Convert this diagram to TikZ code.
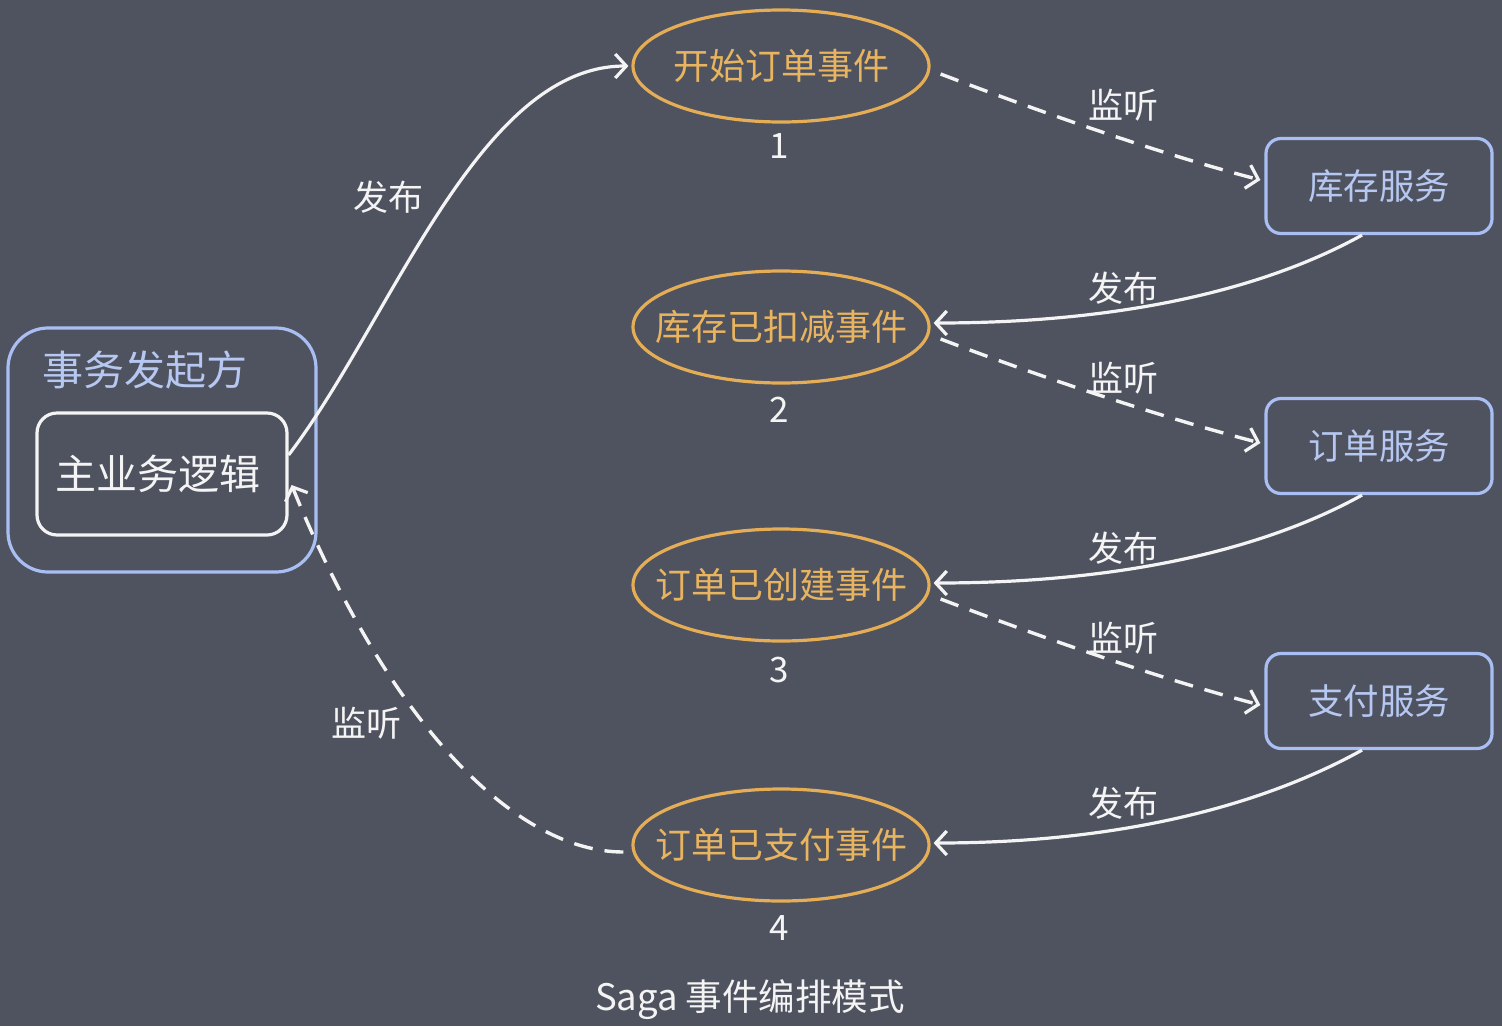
\documentclass[tikz,border=0pt]{standalone}
\usepackage{fontspec}
\setmainfont{Noto Sans CJK SC}
\usetikzlibrary{shapes.geometric,arrows.meta,calc}

\definecolor{bgc}{HTML}{4F535F}
\definecolor{evline}{HTML}{E5AD55}
\definecolor{evtext}{HTML}{E8B460}
\definecolor{svline}{HTML}{A9BFF3}
\definecolor{svtext}{HTML}{B6C8F2}
\definecolor{wline}{HTML}{F4F4F4}

\newcommand{\fs}[1]{\fontsize{#1}{#1}\selectfont}
% zero-width box so the ellipse keeps its fixed size
\newcommand{\evt}[1]{\makebox[0pt]{#1}}

\tikzset{
  x=1pt, y=1pt,
  event/.style={ellipse, draw=evline, line width=3.2pt, minimum width=296, minimum height=112,
    text=evtext, font=\fs{36}, inner sep=0pt},
  service/.style={rectangle, rounded corners=15, draw=svline, line width=3.2pt,
    minimum width=226, minimum height=95, text=svtext, font=\fs{35.5}},
  num/.style={text=wline, font=\fs{35}, inner sep=0pt},
  lbl/.style={text=wline, font=\fs{35}, inner sep=0pt},
  tip/.style={-{Straight Barb[length=11pt,width=24pt,line width=3.2pt]}},
  publish/.style={draw=wline, line width=3.2pt, tip},
  listen/.style={draw=wline, line width=3.4pt, dash pattern=on 19pt off 12pt, tip},
}

\begin{document}
\begin{tikzpicture}
  % canvas
  \fill[bgc] (0,0) rectangle (1502,-1026);
  \useasboundingbox (0,0) rectangle (1502,-1026);

  % initiator
  \node[rectangle, rounded corners=40, draw=svline, line width=3.2pt,
        minimum width=308, minimum height=244] (outer) at (162,-450) {};
  \node[text=svtext, font=\fs{41}, inner sep=0pt] (outerlbl) at (145,-370) {事务发起方};
  \node[rectangle, rounded corners=20, draw=wline, line width=3.2pt,
        minimum width=250, minimum height=122, text=wline, font=\fs{41}] (inner) at (162,-474)
        {\makebox[0pt]{主业务逻辑\hspace{9pt}}};

  % events
  \node[event] (e1) at (781,-66)  {\evt{开始订单事件}};
  \node[event] (e2) at (781,-327) {\evt{库存已扣减事件}};
  \node[event] (e3) at (781,-585) {\evt{订单已创建事件}};
  \node[event] (e4) at (781,-845) {\evt{订单已支付事件}};

  \node[num] (n1) at (779,-146) {1};
  \node[num] (n2) at (779,-410) {2};
  \node[num] (n3) at (779,-670) {3};
  \node[num] (n4) at (779,-928) {4};

  % services
  \node[service] (s1) at (1379,-186) {库存服务};
  \node[service] (s2) at (1379,-446) {订单服务};
  \node[service] (s3) at (1379,-701) {支付服务};

  % initiator publishes the first event
  \draw[publish] ($(inner.east)+(0,19)$) .. controls +(103,135) and +(-150,0) .. ($(e1.west)+(-3,0)$);
  \node[lbl] (p0) at (388,-197) {发布};

  % services listen and publish
  \draw[listen] ($(e1.east)+(10,-8)$) .. controls +(100,-38) and +(-100,26) .. ($(s1.west)+(-4,6)$);
  \node[lbl] (l1) at (1123,-105) {监听};
  \draw[publish] ($(s1.south)+(-17,0)$) .. controls +(-90,-50) and +(200,0) .. ($(e2.east)+(3,4)$);
  \node[lbl] (p1) at (1123,-288) {发布};

  \draw[listen] ($(e2.east)+(10,-12)$) .. controls +(100,-38) and +(-100,26) .. ($(s2.west)+(-4,3)$);
  \node[lbl] (l2) at (1123,-378) {监听};
  \draw[publish] ($(s2.south)+(-17,0)$) .. controls +(-90,-50) and +(200,0) .. ($(e3.east)+(3,2)$);
  \node[lbl] (p2) at (1123,-548) {发布};

  \draw[listen] ($(e3.east)+(10,-14)$) .. controls +(100,-38) and +(-100,26) .. ($(s3.west)+(-4,-4)$);
  \node[lbl] (l3) at (1123,-638) {监听};
  \draw[publish] ($(s3.south)+(-17,0)$) .. controls +(-90,-50) and +(200,0) .. ($(e4.east)+(3,2)$);
  \node[lbl] (p3) at (1123,-803) {发布};

  % initiator listens to the final event
  \draw[listen] ($(e4.west)+(-8,-7)$) .. controls +(-105,0) and +(100,-245) .. ($(inner.east)+(3,-11)$);
  \node[lbl] (l4) at (366,-723) {监听};

  % caption
  \node[text=wline, font=\fs{36.5}, inner sep=0pt] (caption) at (750,-1000) {Saga 事件编排模式};
\end{tikzpicture}
\end{document}
